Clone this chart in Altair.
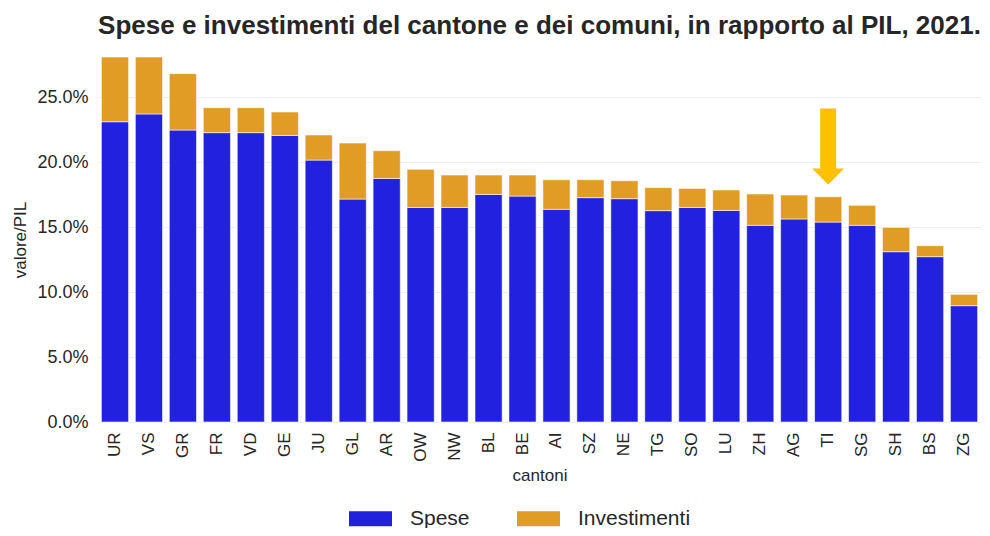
import altair as alt
import pandas as pd

cantoni = ["UR", "VS", "GR", "FR", "VD", "GE", "JU", "GL", "AR", "OW", "NW", "BL", "BE",
           "AI", "SZ", "NE", "TG", "SO", "LU", "ZH", "AG", "TI", "SG", "SH", "BS", "ZG"]
spese = [23.10, 23.70, 22.46, 22.26, 22.26, 22.05, 20.15, 17.15, 18.74, 16.51, 16.51, 17.51, 17.38,
         16.36, 17.26, 17.18, 16.26, 16.51, 16.28, 15.13, 15.62, 15.38, 15.13, 13.10, 12.72, 8.95]
investimenti = [4.98, 4.38, 4.34, 1.92, 1.92, 1.80, 1.93, 4.31, 2.13, 2.93, 2.49, 1.49, 1.62,
                2.28, 1.38, 1.38, 1.77, 1.46, 1.57, 2.41, 1.84, 1.95, 1.54, 1.87, 0.84, 0.87]
serie = ["Spese", "Investimenti"]
colori = ["#2121DE", "#E09C24"]
y_ticks = [0, 5, 10, 15, 20, 25]
y_max = 28.08

# annotation arrow pointing at Ticino
arrow_canton = ["TI"]
arrow_center = [21.2]

FONT = "Liberation Sans"
TXT = "#262626"

rows = []
for c, s, i in zip(cantoni, spese, investimenti):
    rows.append({"cantone": c, "serie": "Spese", "valore": s, "ord": 0})
    rows.append({"cantone": c, "serie": "Investimenti", "valore": i, "ord": 1})
df = pd.DataFrame(rows)
arrow_df = pd.DataFrame({"cantone": arrow_canton, "valore": arrow_center})

x_enc = alt.X("cantone:N", sort=cantoni, title="cantoni",
              scale=alt.Scale(paddingInner=0.2, paddingOuter=0.1),
              axis=alt.Axis(labelAngle=-90, labelFontSize=17, titleFontSize=17,
                            labelPadding=10, titlePadding=6, ticks=False, tickSize=0,
                            domain=False, grid=False, labelColor=TXT, titleColor=TXT,
                            labelFont=FONT, titleFont=FONT, titleFontWeight="normal"))

y_axis = alt.Axis(values=y_ticks, labelExpr="format(datum.value, '.1f') + '%'",
                  labelFontSize=18, titleFontSize=17, labelPadding=10, titlePadding=7,
                  ticks=False, tickSize=0, domain=False, grid=True,
                  gridColor="#EEEEEE", gridWidth=1, labelColor=TXT, titleColor=TXT,
                  labelFont=FONT, titleFont=FONT, titleFontWeight="normal")
y_scale = alt.Scale(domain=[0, y_max], nice=False)

bars = alt.Chart(df).mark_bar(stroke="white", strokeWidth=0.8, strokeOpacity=0.7).encode(
    x=x_enc,
    y=alt.Y("valore:Q", stack="zero", title="valore/PIL", scale=y_scale, axis=y_axis),
    color=alt.Color("serie:N", scale=alt.Scale(domain=serie, range=colori), title=None,
                    legend=alt.Legend(orient="none", direction="horizontal",
                                      legendX=251, legendY=440, padding=0,
                                      symbolType="M-1,-0.35L1,-0.35L1,0.35L-1,0.35Z",
                                      symbolSize=1849, symbolStrokeWidth=0,
                                      symbolOpacity=1,
                                      labelFontSize=21, labelFont=FONT, labelColor=TXT,
                                      labelOffset=18, columnPadding=47)),
    order=alt.Order("ord:Q"),
)

arrow = alt.Chart(arrow_df).mark_point(
    shape="M-0.21,-1L0.21,-1L0.21,0.579L0.421,0.579L0,1L-0.421,0.579L-0.21,0.579Z",
    size=5776, filled=True, fill="#FFC000", opacity=1, strokeWidth=0,
).encode(x=x_enc,
         y=alt.Y("valore:Q", stack=None, title="valore/PIL", scale=y_scale, axis=y_axis))

chart = alt.layer(bars, arrow).properties(
    width=883, height=365,
    background="white",
    autosize=alt.AutoSizeParams(type="none"),
    padding={"left": 90, "top": 49, "right": 1, "bottom": 106},
    title=alt.Title("Spese e investimenti del cantone e dei comuni, in rapporto al PIL, 2021.",
                    fontSize=26, font=FONT, fontWeight="bold", color=TXT,
                    anchor="middle", offset=18),
).configure_view(strokeWidth=0)

chart.save("out.html", embed_options={"renderer": "svg", "actions": False})
